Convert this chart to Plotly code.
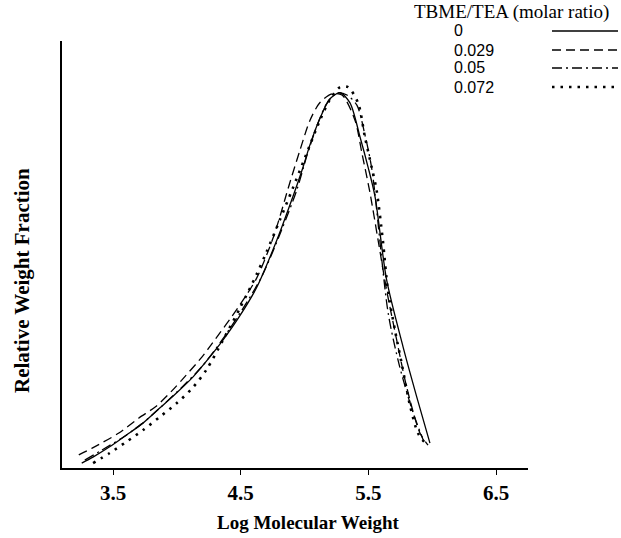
import plotly.graph_objects as go

# ---- data ----
series_names = ["0", "0.029", "0.05", "0.072"]

x_0 = [3.255, 3.343, 3.477, 3.607, 3.737, 3.868, 3.999, 4.129, 4.246, 4.361, 4.494, 4.625,
       4.782, 4.886, 4.988, 5.043, 5.121, 5.199, 5.278, 5.356, 5.434, 5.497, 5.552, 5.643,
       5.771, 5.878, 5.982]
y_0 = [0.013, 0.029, 0.057, 0.088, 0.120, 0.160, 0.200, 0.243, 0.290, 0.340, 0.405, 0.480,
       0.605, 0.700, 0.800, 0.860, 0.930, 0.982, 0.998, 0.971, 0.881, 0.801, 0.722, 0.500,
       0.323, 0.190, 0.066]

x_029 = [3.232, 3.337, 3.546, 3.703, 3.833, 3.961, 4.068, 4.196, 4.274, 4.486, 4.625, 4.757,
         4.886, 4.964, 5.043, 5.121, 5.215, 5.293, 5.395, 5.449, 5.513, 5.576, 5.643, 5.722,
         5.800, 5.904, 5.967]
y_029 = [0.035, 0.053, 0.093, 0.133, 0.163, 0.205, 0.245, 0.295, 0.330, 0.430, 0.505, 0.615,
         0.760, 0.845, 0.925, 0.972, 0.995, 0.992, 0.925, 0.838, 0.731, 0.606, 0.473, 0.340,
         0.215, 0.093, 0.061]

x_05 = [3.279, 3.414, 3.571, 3.727, 3.884, 4.040, 4.197, 4.353, 4.510, 4.666, 4.823, 4.940,
        5.018, 5.097, 5.175, 5.254, 5.332, 5.410, 5.473, 5.528, 5.655, 5.744, 5.851, 5.930]
y_05 = [0.021, 0.048, 0.080, 0.118, 0.165, 0.215, 0.270, 0.340, 0.420, 0.510, 0.635, 0.740,
        0.830, 0.910, 0.970, 0.997, 0.992, 0.965, 0.886, 0.793, 0.412, 0.271, 0.146, 0.074]

x_072 = [3.344, 3.475, 3.606, 3.736, 3.867, 3.998, 4.128, 4.233, 4.361, 4.494, 4.625, 4.703,
         4.807, 4.909, 5.003, 5.121, 5.199, 5.278, 5.340, 5.419, 5.473, 5.525, 5.564, 5.613,
         5.653, 5.708, 5.763, 5.825, 5.888, 5.951]
y_072 = [0.013, 0.040, 0.070, 0.101, 0.136, 0.172, 0.215, 0.262, 0.340, 0.425, 0.515, 0.575,
         0.660, 0.745, 0.825, 0.925, 0.980, 1.013, 1.013, 0.971, 0.880, 0.801, 0.739, 0.606,
         0.473, 0.367, 0.274, 0.168, 0.093, 0.064]

xs = [x_0, x_029, x_05, x_072]
ys = [y_0, y_029, y_05, y_072]

x_tick_vals = [3.5, 4.5, 5.5, 6.5]
x_tick_text = ["3.5", "4.5", "5.5", "6.5"]

legend_title = "TBME/TEA (molar ratio)"
x_title = "Log Molecular Weight"
y_title = "Relative Weight Fraction"

# ---- styles ----
styles = [
    dict(color="black", width=1.3, dash="solid"),
    dict(color="black", width=1.3, dash="9px,5px"),
    dict(color="black", width=1.3, dash="10px,4px,2px,4px"),
    dict(color="black", width=2.6, dash="2.5px,6px"),
]

W, H = 621, 538
ML, MR, MT, MB = 62, 93, 41, 70
PW, PH = W - ML - MR, H - MT - MB

fig = go.Figure()
for name, x, y, st in zip(series_names, xs, ys, styles):
    fig.add_trace(go.Scatter(x=x, y=y, mode="lines", name=name,
                             line=dict(shape="spline", smoothing=0.8, **st),
                             showlegend=False))

serif = "Liberation Serif"

def px2paper(px, py):
    return (px - ML) / PW, (H - MB - py) / PH

annotations = []
# axis titles
ax, ay = px2paper(308, 522)
annotations.append(dict(x=ax, y=ay, xref="paper", yref="paper", text="<b>" + x_title + "</b>",
                        showarrow=False, xanchor="center", yanchor="middle",
                        font=dict(family=serif, size=19, color="black")))
ax, ay = px2paper(22, 281)
annotations.append(dict(x=ax, y=ay, xref="paper", yref="paper", text="<b>" + y_title + "</b>",
                        showarrow=False, xanchor="center", yanchor="middle", textangle=-90,
                        font=dict(family=serif, size=21, color="black")))
# legend drawn manually (text on left, sample on right)
tx, ty = px2paper(412, 12)
annotations.append(dict(x=tx, y=ty, xref="paper", yref="paper", text=legend_title,
                        showarrow=False, xanchor="left", yanchor="middle",
                        font=dict(family=serif, size=19, color="black")))
shapes = []
row_y = [31, 50, 68, 87]
for name, ry, st in zip(series_names, row_y, styles):
    lx, ly = px2paper(452, ry)
    annotations.append(dict(x=lx, y=ly, xref="paper", yref="paper", text=name,
                            showarrow=False, xanchor="left", yanchor="middle",
                            font=dict(family="Liberation Sans", size=16, color="black")))
    x0, y0 = px2paper(552, ry)
    x1, _ = px2paper(618, ry)
    shapes.append(dict(type="line", xref="paper", yref="paper", x0=x0, x1=x1, y0=y0, y1=y0,
                       line=dict(color="black", width=st["width"], dash=st["dash"])))

fig.update_layout(
    width=W, height=H,
    margin=dict(l=ML, r=MR, t=MT, b=MB),
    paper_bgcolor="white", plot_bgcolor="white",
    annotations=annotations, shapes=shapes,
    xaxis=dict(range=[3.1006, 6.750], tickvals=x_tick_vals,
               ticktext=["<b>" + t + "</b>" for t in x_tick_text],
               showgrid=False, zeroline=False, showline=True, linecolor="black", linewidth=1.8,
               ticks="outside", ticklen=5, tickcolor="black",
               tickfont=dict(family=serif, size=21, color="black")),
    yaxis=dict(range=[0, 1.1356], showticklabels=False, ticks="",
               showgrid=False, zeroline=False, showline=True, linecolor="black", linewidth=1.8),
)

fig.write_html("out.html")
